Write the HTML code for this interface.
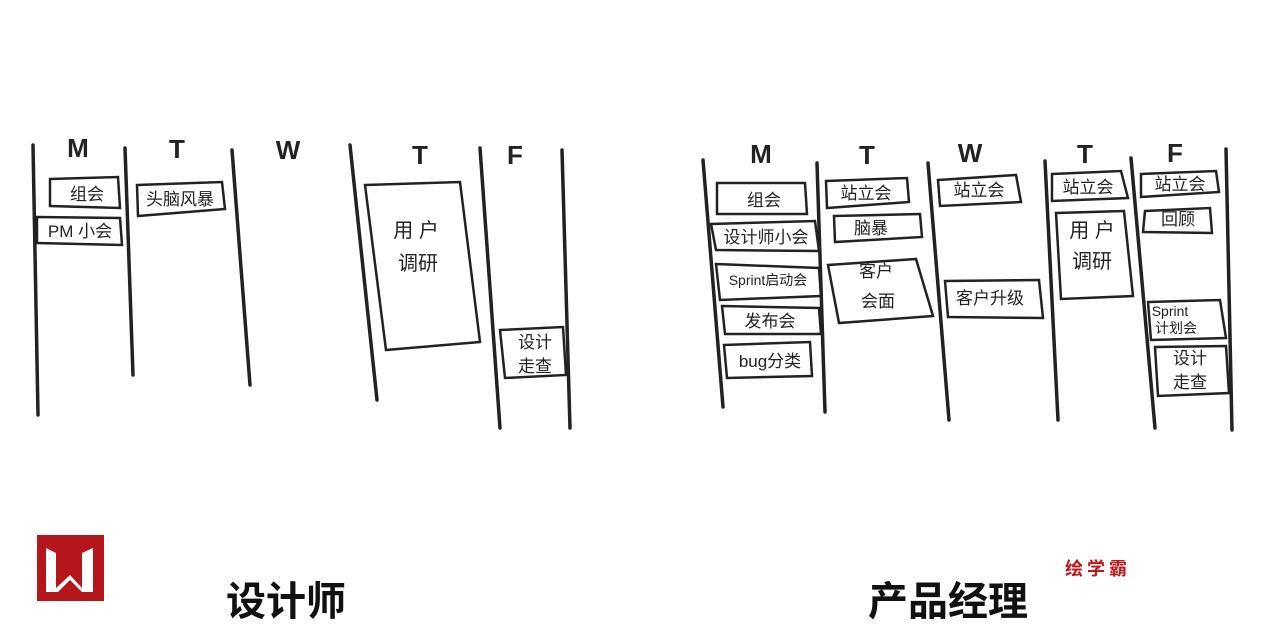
<!DOCTYPE html>
<html><head><meta charset="utf-8"><style>
html,body{margin:0;padding:0;background:#fff;width:1280px;height:627px;overflow:hidden}
svg{display:block}
text{font-family:"Liberation Sans","Noto Sans CJK SC",sans-serif;fill:#222}
</style></head><body>
<svg width="1280" height="627" viewBox="0 0 1280 627">
<g stroke="#222" stroke-width="3.5" fill="none" stroke-linecap="round">
<path d="M33 145 L38 415"/><path d="M125 148 L133 375"/><path d="M232 150 L250 385"/>
<path d="M350 145 L377 400"/><path d="M480 148 L500 428"/><path d="M562 150 L570 428"/>
<path d="M703 160 L723 407"/><path d="M817 163 L825 412"/><path d="M928 163 L949 420"/>
<path d="M1045 161 L1058 420"/><path d="M1131 158 L1155 428"/><path d="M1226 149 L1232 430"/>
</g>
<g stroke="#222" stroke-width="2.5" fill="none">
<path d="M50 179 L118 177 L120 208 L50 206 Z"/>
<path d="M37 217 L120 218 L122 245 L37 243 Z"/>
<path d="M137 185 L222 182 L225 209 L138 216 Z"/>
<path d="M365 185 L460 182 L480 342 L386 350 Z"/>
<path d="M500 330 L563 327 L566 375 L505 378 Z"/>
<path d="M717 183 L805 183 L807 214 L717 214 Z"/>
<path d="M711 224 L815 221 L819 251 L716 250 Z"/>
<path d="M716 264 L819 268 L821 296 L720 300 Z"/>
<path d="M722 306 L819 308 L821 334 L725 334 Z"/>
<path d="M724 345 L810 342 L812 376 L727 378 Z"/>
<path d="M826 181 L907 178 L909 202 L827 208 Z"/>
<path d="M834 216 L920 214 L922 237 L835 242 Z"/>
<path d="M828 265 L916 259 L933 316 L839 323 Z"/>
<path d="M938 180 L1016 175 L1021 202 L940 206 Z"/>
<path d="M945 281 L1039 280 L1043 318 L948 317 Z"/>
<path d="M1052 174 L1121 171 L1128 198 L1052 201 Z"/>
<path d="M1056 213 L1124 211 L1133 296 L1061 299 Z"/>
<path d="M1141 174 L1216 171 L1219 192 L1141 197 Z"/>
<path d="M1145 211 L1210 208 L1212 233 L1143 232 Z"/>
<path d="M1148 302 L1220 300 L1226 338 L1151 340 Z"/>
<path d="M1155 347 L1226 346 L1229 393 L1158 396 Z"/>
</g>
<g font-size="26" font-weight="bold" text-anchor="middle">
<text x="78" y="157">M</text><text x="177" y="158">T</text><text x="288" y="159">W</text><text x="420" y="164">T</text><text x="515" y="164">F</text>
<text x="761" y="163">M</text><text x="867" y="164">T</text><text x="970" y="162">W</text><text x="1085" y="163">T</text><text x="1175" y="162">F</text>
</g>
<g font-size="17" text-anchor="middle">
<text x="87" y="200">组会</text>
<text x="80" y="237">PM 小会</text>
<text x="180" y="205">头脑风暴</text>
<text x="416" y="237" font-size="20">用 户</text>
<text x="418" y="270" font-size="20">调研</text>
<text x="535" y="348">设计</text>
<text x="535" y="372">走查</text>

<text x="764" y="206">组会</text>
<text x="766" y="243">设计师小会</text>
<text x="768" y="285" font-size="14">Sprint启动会</text>
<text x="770" y="327">发布会</text>
<text x="770" y="367">bug分类</text>
<text x="866" y="199">站立会</text>
<text x="871" y="234">脑暴</text>
<text x="876" y="277">客户</text>
<text x="878" y="307">会面</text>
<text x="979" y="196">站立会</text>
<text x="990" y="304">客户升级</text>
<text x="1088" y="193">站立会</text>
<text x="1092" y="237" font-size="20">用 户</text>
<text x="1092" y="268" font-size="20">调研</text>
<text x="1180" y="190">站立会</text>
<text x="1178" y="225">回顾</text>
<text x="1170" y="316" font-size="14">Sprint</text>
<text x="1176" y="333" font-size="14">计划会</text>
<text x="1190" y="364">设计</text>
<text x="1190" y="388">走查</text>
</g>
<rect x="37" y="535" width="67" height="66" fill="#b5161b"/>
<path d="M46 548 L56 553 L56 588 L70 575 L82 588 L82 553 L93 548 L93 592 L82 592 L70 580 L58 592 L46 592 Z" fill="#fff"/>
<text x="1098" y="575" font-size="18" font-weight="bold" text-anchor="middle" style="fill:#c0141a;letter-spacing:4px">绘学霸</text>
<text x="286" y="615" font-size="40" font-weight="bold" text-anchor="middle" style="fill:#111">设计师</text>
<text x="948" y="615" font-size="40" font-weight="bold" text-anchor="middle" style="fill:#111">产品经理</text>
</svg>
</body></html>
